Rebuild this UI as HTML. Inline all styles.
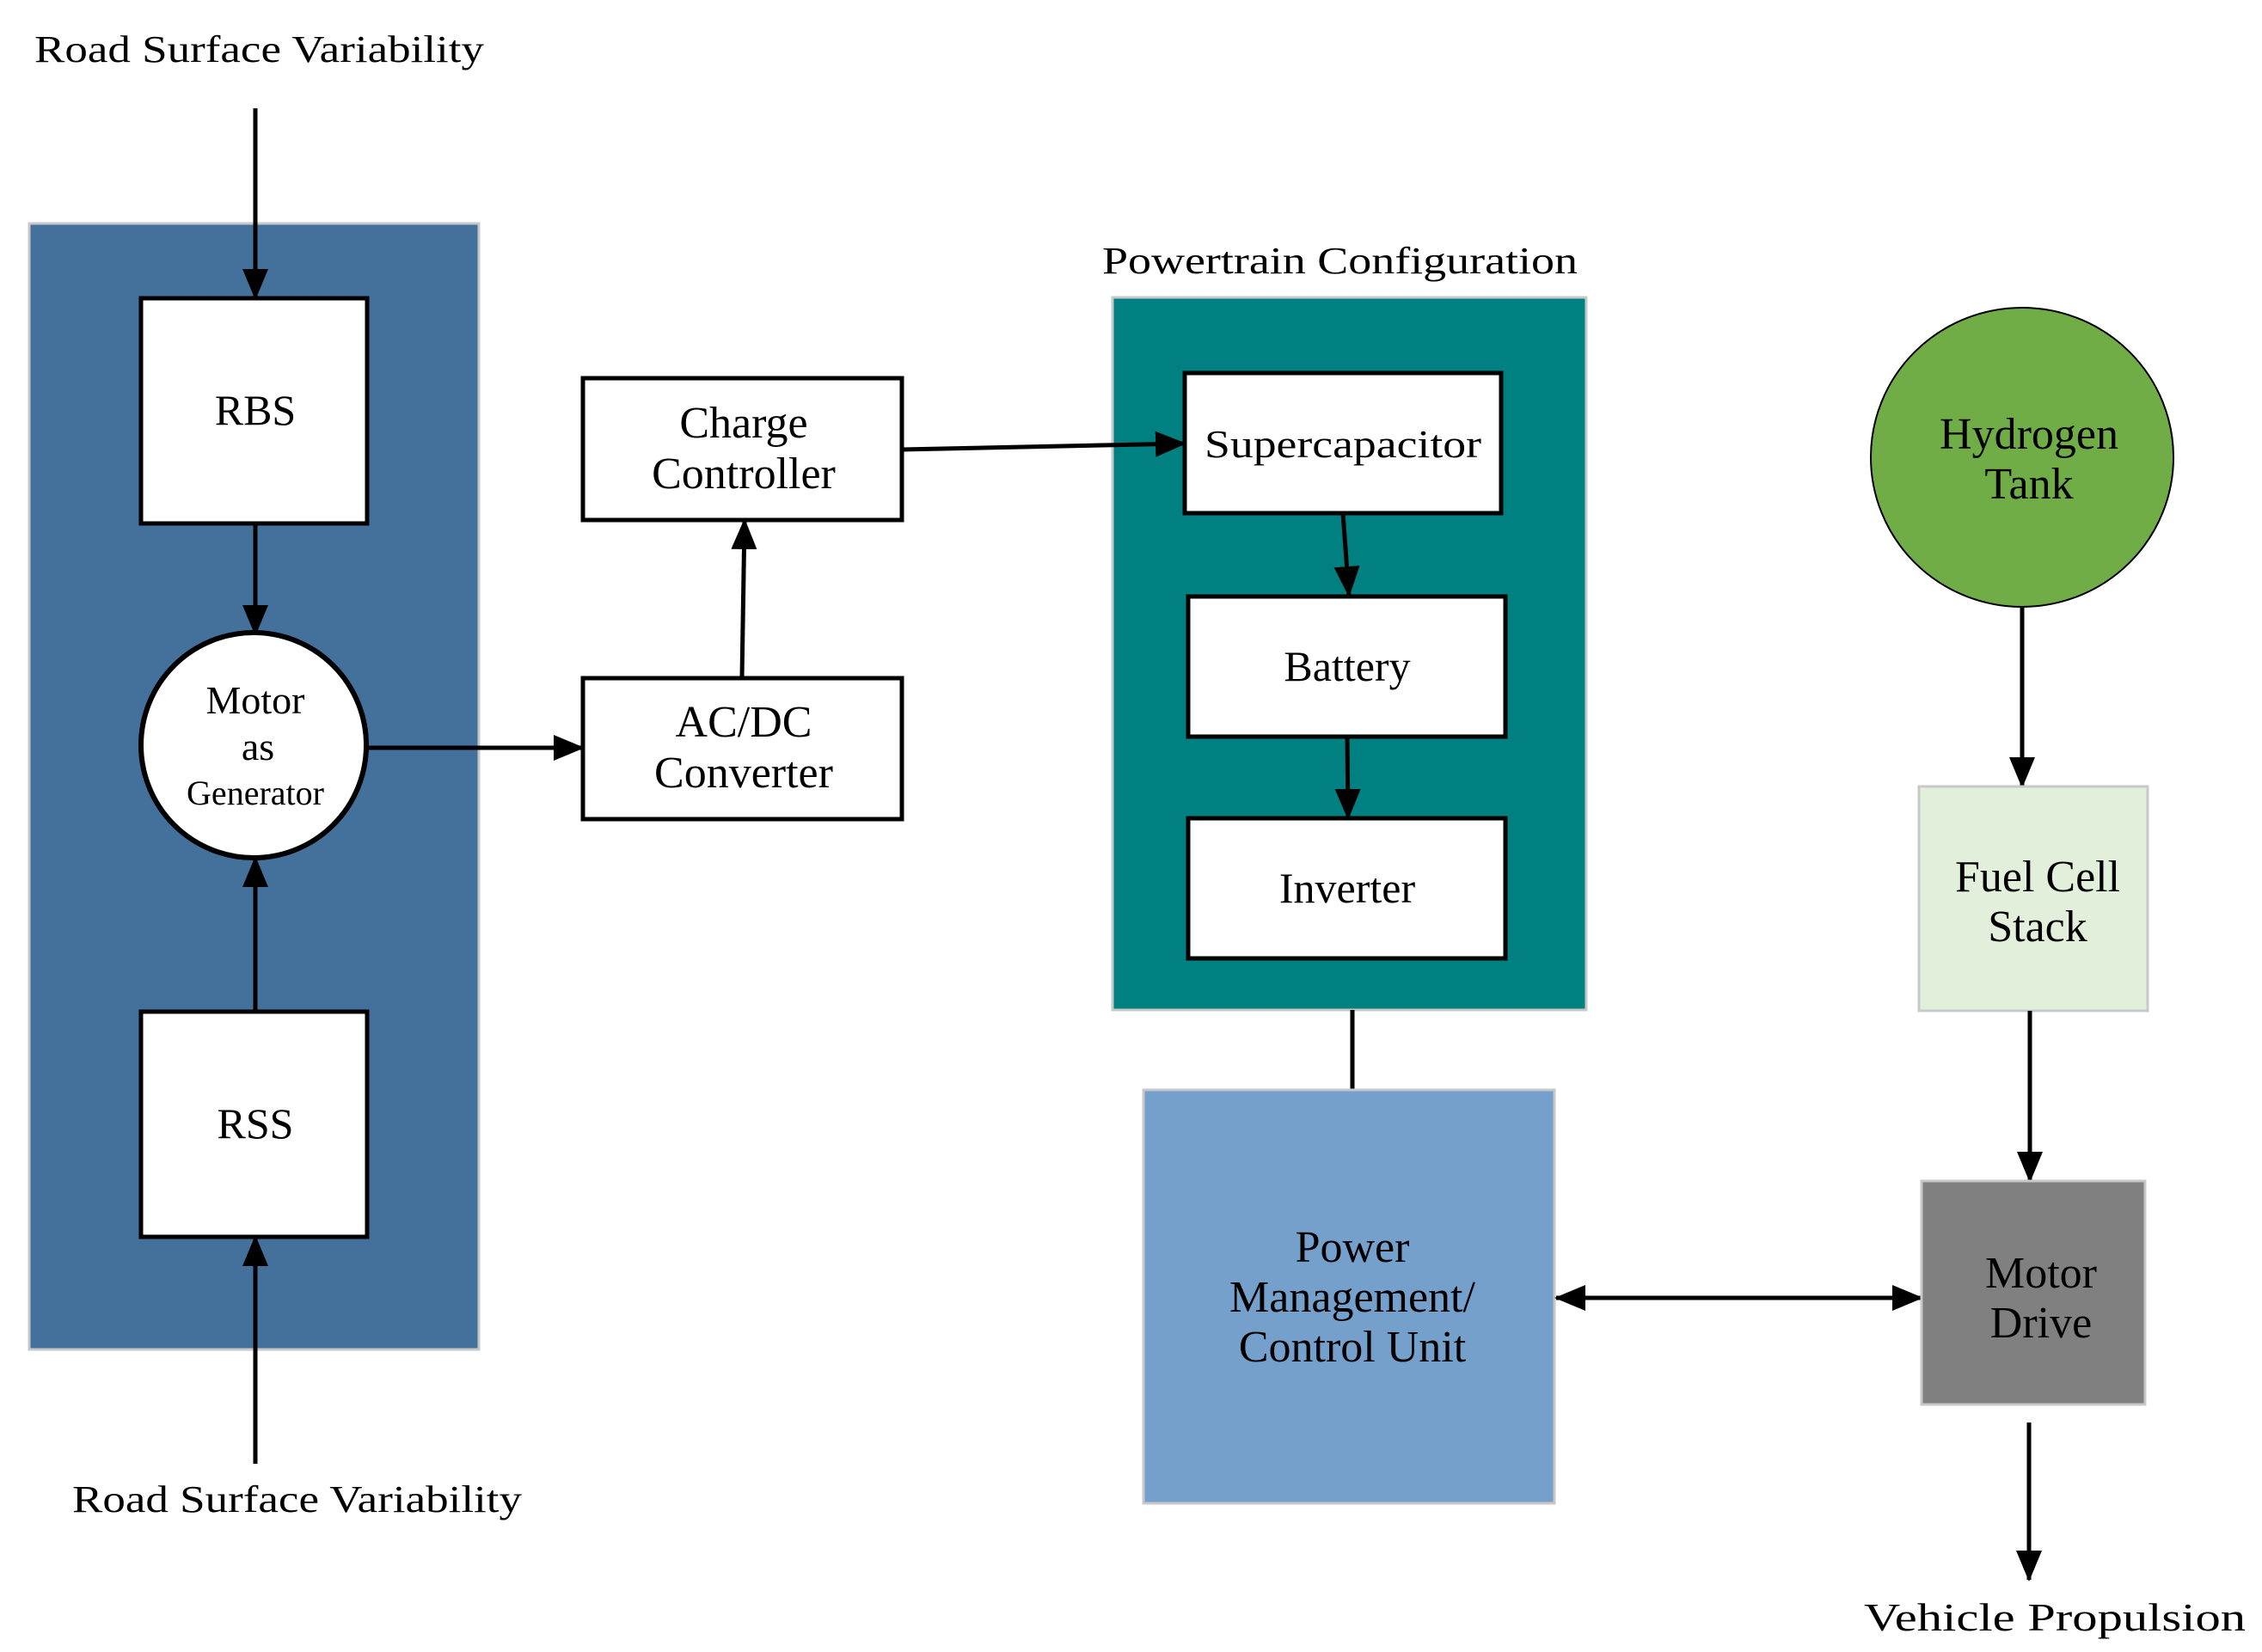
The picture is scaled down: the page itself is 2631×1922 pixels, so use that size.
<!DOCTYPE html>
<html><head><meta charset="utf-8"><style>
html,body{margin:0;padding:0;background:#fff;}
svg{display:block;}
text{font-family:"Liberation Serif",serif;fill:#000;}
</style></head><body>
<svg width="2631" height="1922" viewBox="0 0 2631 1922" xmlns="http://www.w3.org/2000/svg">
<defs>
<marker id="ah" markerWidth="36" markerHeight="30" refX="34" refY="15" orient="auto" markerUnits="userSpaceOnUse">
<path d="M0,0 L36,15 L0,30 z" fill="#000"/>
</marker>
<marker id="ahs" markerWidth="36" markerHeight="30" refX="2" refY="15" orient="auto" markerUnits="userSpaceOnUse">
<path d="M36,0 L0,15 L36,30 z" fill="#000"/>
</marker>
</defs>

<!-- Left blue panel -->
<rect x="34" y="260" width="523" height="1310" fill="#43719c" stroke="#c8c8c8" stroke-width="3"/>
<text x="40" y="72" font-size="44" textLength="523" lengthAdjust="spacingAndGlyphs">Road Surface Variability</text>
<line x1="297" y1="126" x2="297" y2="347" stroke="#000" stroke-width="5" marker-end="url(#ah)"/>
<rect x="164" y="347" width="263" height="262" fill="#fff" stroke="#000" stroke-width="5"/>
<text x="297" y="494" font-size="50" text-anchor="middle">RBS</text>
<line x1="297" y1="609" x2="297" y2="738" stroke="#000" stroke-width="5" marker-end="url(#ah)"/>
<circle cx="295" cy="867" r="131" fill="#fff" stroke="#000" stroke-width="6"/>
<text x="297" y="830" font-size="46" text-anchor="middle">Motor</text>
<text x="300" y="884" font-size="46" text-anchor="middle">as</text>
<text x="297" y="936" font-size="40" text-anchor="middle">Generator</text>
<rect x="164" y="1177" width="263" height="262" fill="#fff" stroke="#000" stroke-width="5"/>
<text x="297" y="1324" font-size="50" text-anchor="middle">RSS</text>
<line x1="297" y1="1177" x2="297" y2="998" stroke="#000" stroke-width="5" marker-end="url(#ah)"/>
<line x1="297" y1="1703" x2="297" y2="1439" stroke="#000" stroke-width="5" marker-end="url(#ah)"/>
<text x="84" y="1759" font-size="44" textLength="523" lengthAdjust="spacingAndGlyphs">Road Surface Variability</text>

<!-- Middle -->
<line x1="427" y1="870" x2="678" y2="870" stroke="#000" stroke-width="5" marker-end="url(#ah)"/>
<rect x="678" y="789" width="371" height="164" fill="#fff" stroke="#000" stroke-width="5"/>
<text x="865" y="857" font-size="52" text-anchor="middle">AC/DC</text>
<text x="865" y="916" font-size="52" text-anchor="middle">Converter</text>
<line x1="863" y1="789" x2="866" y2="605" stroke="#000" stroke-width="5" marker-end="url(#ah)"/>
<rect x="678" y="440" width="371" height="165" fill="#fff" stroke="#000" stroke-width="5"/>
<text x="865" y="509" font-size="52" text-anchor="middle">Charge</text>
<text x="865" y="568" font-size="52" text-anchor="middle">Controller</text>

<!-- Powertrain -->
<text x="1282" y="318" font-size="44" textLength="553" lengthAdjust="spacingAndGlyphs">Powertrain Configuration</text>
<rect x="1294" y="346" width="551" height="829" fill="#008080" stroke="#c8c8c8" stroke-width="3"/>
<line x1="1049" y1="523" x2="1378" y2="516" stroke="#000" stroke-width="5" marker-end="url(#ah)"/>
<rect x="1378" y="434" width="368" height="163" fill="#fff" stroke="#000" stroke-width="5"/>
<text x="1562" y="532" font-size="46" text-anchor="middle" textLength="322" lengthAdjust="spacingAndGlyphs">Supercapacitor</text>
<line x1="1562" y1="597" x2="1569" y2="693" stroke="#000" stroke-width="5" marker-end="url(#ah)"/>
<rect x="1382" y="694" width="369" height="163" fill="#fff" stroke="#000" stroke-width="5"/>
<text x="1567" y="792" font-size="50" text-anchor="middle">Battery</text>
<line x1="1567" y1="857" x2="1568" y2="952" stroke="#000" stroke-width="5" marker-end="url(#ah)"/>
<rect x="1382" y="952" width="369" height="163" fill="#fff" stroke="#000" stroke-width="5"/>
<text x="1567" y="1050" font-size="50" text-anchor="middle">Inverter</text>
<line x1="1573" y1="1175" x2="1573" y2="1268" stroke="#000" stroke-width="5"/>

<!-- PMU -->
<rect x="1330" y="1268" width="478" height="481" fill="#75a0cc" stroke="#c8c8c8" stroke-width="3"/>
<text x="1573" y="1468" font-size="52" text-anchor="middle">Power</text>
<text x="1573" y="1526" font-size="52" text-anchor="middle">Management/</text>
<text x="1573" y="1584" font-size="52" text-anchor="middle">Control Unit</text>
<line x1="1810" y1="1510" x2="2235" y2="1510" stroke="#000" stroke-width="5" marker-start="url(#ahs)" marker-end="url(#ah)"/>

<!-- Right column -->
<ellipse cx="2352" cy="532" rx="176" ry="174" fill="#70ad47" stroke="#000" stroke-width="2"/>
<text x="2360" y="522" font-size="52" text-anchor="middle">Hydrogen</text>
<text x="2360" y="580" font-size="52" text-anchor="middle">Tank</text>
<line x1="2352" y1="706" x2="2352" y2="915" stroke="#000" stroke-width="5" marker-end="url(#ah)"/>
<rect x="2232" y="915" width="266" height="261" fill="#e2efda" stroke="#c8c8c8" stroke-width="3"/>
<text x="2370" y="1037" font-size="52" text-anchor="middle">Fuel Cell</text>
<text x="2370" y="1095" font-size="52" text-anchor="middle">Stack</text>
<line x1="2361" y1="1176" x2="2361" y2="1374" stroke="#000" stroke-width="5" marker-end="url(#ah)"/>
<rect x="2235" y="1374" width="260" height="260" fill="#808080" stroke="#c8c8c8" stroke-width="3"/>
<text x="2374" y="1498" font-size="52" text-anchor="middle">Motor</text>
<text x="2374" y="1556" font-size="52" text-anchor="middle">Drive</text>
<line x1="2360" y1="1655" x2="2360" y2="1838" stroke="#000" stroke-width="5" marker-end="url(#ah)"/>
<text x="2168" y="1897" font-size="46" textLength="444" lengthAdjust="spacingAndGlyphs">Vehicle Propulsion</text>
</svg>
</body></html>
